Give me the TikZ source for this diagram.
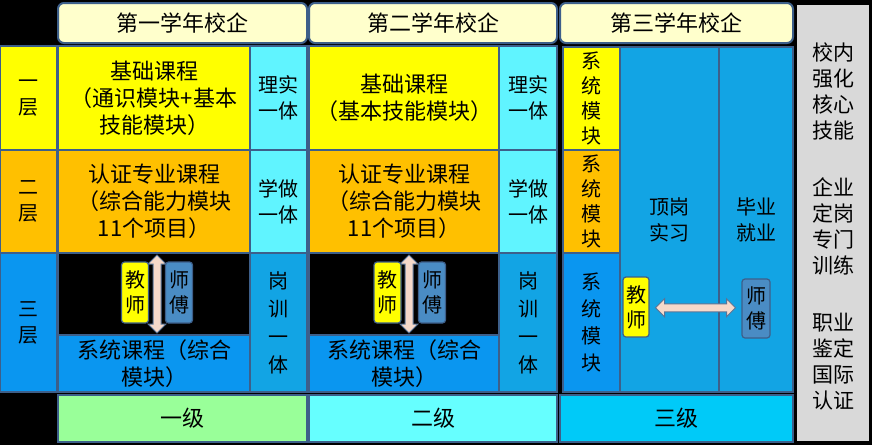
\documentclass[tikz,border=0pt]{standalone}
\usepackage{fontspec}
\setmainfont{Noto Sans CJK SC}
\usetikzlibrary{shapes.arrows}
\definecolor{slate}{HTML}{3D5F8A}
\definecolor{hdrfill}{HTML}{FFFFCC}
\definecolor{yelC}{HTML}{FFFF00}
\definecolor{orgC}{HTML}{FFC000}
\definecolor{cyaC}{HTML}{60F4FF}
\definecolor{bluA}{HTML}{0A96F0}
\definecolor{bluB}{HTML}{12A4E4}
\definecolor{grnC}{HTML}{99FF99}
\definecolor{lcyC}{HTML}{66FFFF}
\definecolor{skyC}{HTML}{00CAF8}
\definecolor{greyC}{HTML}{D9D9D9}
\definecolor{mstC}{HTML}{4A8CC4}
\definecolor{pinkC}{HTML}{F6D9CA}
\definecolor{arrE}{HTML}{5A7496}
\begin{document}
\begin{tikzpicture}[x=1pt,y=-1pt,
  cell/.style={draw=slate, line width=1.5pt, inner sep=0pt, align=center, text=black},
  big/.style={font=\fontsize{22}{27}\selectfont},
  mid/.style={font=\fontsize{20}{26}\selectfont},
  hdr/.style={cell, rounded corners=6pt, fill=hdrfill, line width=2pt, big, minimum height=40pt},
  tbox/.style={draw=slate, line width=1.2pt, rounded corners=3pt, inner sep=0pt, align=center,
    font=\fontsize{20}{25}\selectfont, minimum width=27pt, minimum height=61pt},
  dblarrow/.style={double arrow, draw=arrE, fill=pinkC, line width=1pt, inner sep=3.5pt,
    double arrow head extend=5pt}
]
\fill[black] (0,0) rectangle (872,445);
\useasboundingbox (0,0) rectangle (872,445);

% headers
\node[hdr, minimum width=249pt] (h1) at (182.5,23) {第一学年校企};
\node[hdr, minimum width=248pt] (h2) at (433,23) {第二学年校企};
\node[hdr, minimum width=233pt] (h3) at (676.5,23) {第三学年校企};

% right grey column
\node[fill=greyC, minimum width=72pt, minimum height=436pt, inner sep=0pt] (gr) at (833,223) {};
\node[align=center, font=\fontsize{21}{26}\selectfont, inner sep=0pt] (grt) at (833,226)
  {校内\\强化\\核心\\技能\\[31pt]企业\\定岗\\专门\\训练\\[31pt]职业\\鉴定\\国际\\认证};

% layer labels
\node[cell, fill=yelC, mid, minimum width=57pt, minimum height=104pt] (l1) at (28.5,98) {一\\层};
\node[cell, fill=orgC, mid, minimum width=57pt, minimum height=103pt] (l2) at (28.5,201.5) {二\\层};
\node[cell, fill=bluA, mid, minimum width=57pt, minimum height=139pt] (l3) at (28.5,322.5) {三\\层};

% year 1
\node[cell, fill=yelC, big, minimum width=192pt, minimum height=104pt] (b1) at (154,98)
  {基础课程\\（通识模块+基本\\技能模块）};
\node[cell, fill=cyaC, mid, minimum width=57pt, minimum height=104pt] (s1) at (278.5,98) {理实\\一体};
\node[cell, fill=orgC, big, minimum width=192pt, minimum height=103pt] (c1) at (154,201.5)
  {认证专业课程\\（综合能力模块\\11个项目）};
\node[cell, fill=cyaC, mid, minimum width=57pt, minimum height=103pt] (t1) at (278.5,201.5) {学做\\一体};
\node[cell, fill=black, minimum width=192pt, minimum height=82pt] (k1) at (154,294) {};
\node[cell, fill=bluA, big, minimum width=192pt, minimum height=57pt] (x1) at (154,363.5)
  {系统课程（综合\\模块）};
\node[cell, fill=bluB, font=\fontsize{20}{28}\selectfont, minimum width=57pt, minimum height=139pt] (g1) at (278.5,322.5)
  {岗\\训\\一\\体};
\node[dblarrow, rotate=90, minimum height=78pt] (a1) at (157,294) {};
\node[tbox, fill=yelC] (te1) at (135,292.5) {教\\师};
\node[tbox, fill=mstC] (ms1) at (179,292.5) {师\\傅};

% year 2
\node[cell, fill=yelC, big, minimum width=190pt, minimum height=104pt] (b2) at (404,98)
  {基础课程\\（基本技能模块）};
\node[cell, fill=cyaC, mid, minimum width=58pt, minimum height=104pt] (s2) at (528,98) {理实\\一体};
\node[cell, fill=orgC, big, minimum width=190pt, minimum height=103pt] (c2) at (404,201.5)
  {认证专业课程\\（综合能力模块\\11个项目）};
\node[cell, fill=cyaC, mid, minimum width=58pt, minimum height=103pt] (t2) at (528,201.5) {学做\\一体};
\node[cell, fill=black, minimum width=190pt, minimum height=82pt] (k2) at (404,294) {};
\node[cell, fill=bluA, big, minimum width=190pt, minimum height=57pt] (x2) at (404,363.5)
  {系统课程（综合\\模块）};
\node[cell, fill=bluB, font=\fontsize{20}{28}\selectfont, minimum width=58pt, minimum height=139pt] (g2) at (528,322.5)
  {岗\\训\\一\\体};
\node[dblarrow, rotate=90, minimum height=78pt] (a2) at (409,294) {};
\node[tbox, fill=yelC] (te2) at (387.5,292.5) {教\\师};
\node[tbox, fill=mstC] (ms2) at (432,292.5) {师\\傅};

% year 3
\node[cell, fill=yelC, font=\fontsize{20}{25}\selectfont, minimum width=57pt, minimum height=103pt] (m1) at (591.5,98.5) {系\\统\\模\\块};
\node[cell, fill=orgC, font=\fontsize{20}{25}\selectfont, minimum width=57pt, minimum height=103pt] (m2) at (591.5,201.5) {系\\统\\模\\块};
\node[cell, fill=bluA, font=\fontsize{20}{27}\selectfont, minimum width=57pt, minimum height=139pt] (m3) at (591.5,322.5) {系\\统\\模\\块};
\node[cell, fill=bluB, mid, minimum width=99pt, minimum height=345pt, text depth=0pt] (dg) at (669.5,219.5) {顶岗\\实习};
\node[cell, fill=bluB, mid, minimum width=74pt, minimum height=345pt] (by) at (756,219.5) {毕业\\就业};
\node[tbox, fill=yelC, minimum width=26pt, minimum height=60pt] (te3) at (636,307) {教\\师};
\node[tbox, fill=mstC, minimum width=28pt, minimum height=59pt] (ms3) at (756,308.5) {师\\傅};
\path (te3) -- (ms3) node[midway, dblarrow, minimum height=80pt] (a3) {};

% bottom levels
\node[cell, fill=grnC, big, minimum width=249pt, minimum height=47pt] (j1) at (182.5,418.5) {一级};
\node[cell, fill=lcyC, big, minimum width=248pt, minimum height=47pt] (j2) at (433,418.5) {二级};
\node[cell, fill=skyC, big, minimum width=233pt, minimum height=47pt] (j3) at (676.5,418.5) {三级};
\end{tikzpicture}
\end{document}
